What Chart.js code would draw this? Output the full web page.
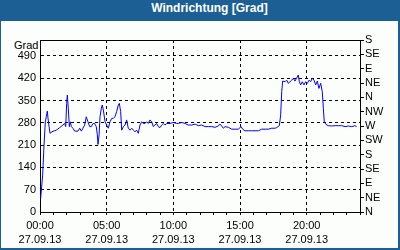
<!DOCTYPE html>
<html>
<head>
<meta charset="utf-8">
<script src="https://cdn.jsdelivr.net/npm/chart.js@4"></script>
<style>
  body { margin: 0; }
  #frame { position: relative; width: 400px; height: 250px; background: #1c5f94; overflow: hidden; }
  #title { position: absolute; left: 0; top: 1px; width: 400px; height: 21px; line-height: 21px; padding-left: 19px; box-sizing: border-box;
           color: #fff; font: bold 12px "Liberation Sans", Arial, sans-serif; text-align: center; }
  #inner { position: absolute; left: 1px; top: 21px; width: 397px; height: 227px; background: #fcfefc; }
  #unit { position: absolute; left: 14px; top: 39px; font: 11px "Liberation Sans", Arial, sans-serif; line-height: 12px; color: #000; }
  canvas { position: absolute; left: 0; top: 0; }
</style>
</head>
<body>
<div id="frame">
  <div id="title">Windrichtung [Grad]</div>
  <div id="inner"></div>
  <div id="unit">Grad</div>
  <canvas id="windChart" width="400" height="250"></canvas>
</div>
<script>
// hours since 00:00 on 27.09.13 and the wind direction in degrees
const hours = [
  0.05, 0.2, 0.3, 0.4, 0.47, 0.55, 0.6, 0.68, 0.75, 0.9, 1.22, 1.48, 1.72, 1.85, 1.93,
  2.0, 2.05, 2.12, 2.2, 2.27, 2.35, 2.47, 2.6, 2.85, 2.98, 3.1, 3.22, 3.35, 3.47, 3.6,
  3.73, 3.85, 3.98, 4.1, 4.22, 4.3, 4.35, 4.43, 4.5, 4.6, 4.67, 4.75, 4.88, 5.0, 5.12,
  5.25, 5.38, 5.5, 5.62, 5.75, 5.87, 5.95, 6.05, 6.13, 6.25, 6.38, 6.5, 6.62, 6.75, 6.88,
  7.0, 7.12, 7.25, 7.37, 7.5, 7.63, 7.75, 7.88, 8.0, 8.12, 8.25, 8.38, 8.5, 8.62, 8.75,
  8.87, 9.0, 9.13, 9.25, 9.37, 9.5, 9.75, 10.0, 10.25, 10.37, 10.63, 10.88, 11.12, 11.38, 11.63,
  11.87, 12.13, 12.38, 12.62, 12.88, 13.13, 13.37, 13.5, 13.63, 13.75, 13.88, 14.12, 14.38, 14.63, 14.87,
  15.08, 15.2, 15.38, 15.62, 15.88, 16.13, 16.37, 16.63, 16.88, 17.12, 17.38, 17.63, 17.75, 17.95, 18.05,
  18.13, 18.2, 18.38, 18.5, 18.62, 18.75, 18.88, 19.0, 19.12, 19.25, 19.37, 19.45, 19.55, 19.67, 19.8,
  19.92, 20.05, 20.18, 20.3, 20.42, 20.55, 20.68, 20.8, 20.92, 21.05, 21.17, 21.25, 21.32, 21.45, 21.62,
  21.88, 22.13, 22.37, 22.63, 22.88, 23.13, 23.38, 23.62, 23.75
];
const degrees = [
  43, 116, 210, 283, 299, 317, 294, 268, 247, 252, 257, 265, 273, 278, 268,
  341, 367, 326, 268, 283, 268, 263, 254, 254, 263, 254, 263, 273, 299, 283,
  268, 268, 278, 278, 268, 242, 212, 242, 299, 326, 336, 320, 283, 273, 263,
  283, 294, 294, 299, 315, 336, 341, 315, 257, 268, 273, 289, 263, 257, 263,
  257, 252, 257, 247, 273, 283, 278, 278, 283, 278, 289, 283, 268, 273, 278,
  268, 265, 273, 278, 273, 278, 278, 281, 278, 278, 281, 278, 273, 273, 276,
  271, 273, 268, 268, 268, 266, 270, 276, 270, 263, 268, 266, 260, 260, 260,
  268, 260, 255, 255, 255, 255, 255, 260, 260, 260, 263, 263, 265, 271, 305,
  378, 411, 409, 414, 404, 409, 414, 420, 411, 420, 430, 409, 399, 409, 399,
  409, 404, 414, 409, 420, 414, 399, 411, 388, 404, 378, 326, 283, 275, 271,
  270, 271, 271, 271, 268, 270, 268, 271, 268
];

const degreeTicks = [0, 70, 140, 210, 280, 350, 420, 490];
const compassTicks = [0, 45, 90, 135, 180, 225, 270, 315, 360, 405, 450, 495, 540];
const compassLabels = ['N', 'NE', 'E', 'SE', 'S', 'SW', 'W', 'NW', 'N', 'NE', 'E', 'SE', 'S'];
const hourTicks = [0, 1, 2, 3, 4, 5, 6, 7, 8, 9, 10, 11, 12, 13, 14, 15, 16, 17, 18, 19, 20, 21, 22, 23, 24];
const timeLabels = { 0: '00:00', 5: '05:00', 10: '10:00', 15: '15:00', 20: '20:00' };
const dateLabel = '27.09.13';

const font = { family: '"Liberation Sans", Arial, sans-serif', size: 11, lineHeight: 1.36 };

// top edge of the plot box
const frameBox = {
  id: 'frameBox',
  afterDraw(chart) {
    const { ctx, chartArea } = chart;
    ctx.save();
    ctx.strokeStyle = '#000';
    ctx.lineWidth = 1;
    ctx.beginPath();
    ctx.moveTo(chartArea.left, Math.round(chartArea.top) + 0.5);
    ctx.lineTo(chartArea.right + 1, Math.round(chartArea.top) + 0.5);
    ctx.stroke();
    ctx.restore();
  }
};

new Chart(document.getElementById('windChart'), {
  type: 'line',
  data: {
    datasets: [{
      data: hours.map((h, i) => ({ x: h, y: degrees[i] })),
      borderColor: '#0000ff',
      borderWidth: 1,
      pointRadius: 0,
      tension: 0,
      fill: false
    }]
  },
  options: {
    responsive: false,
    animation: false,
    devicePixelRatio: 1,
    layout: { padding: { top: 40, left: 0, right: 0, bottom: 0 } },
    plugins: { legend: { display: false }, tooltip: { enabled: false } },
    scales: {
      x: {
        type: 'linear',
        min: 0,
        max: 24,
        afterBuildTicks: (scale) => { scale.ticks = hourTicks.map(v => ({ value: v })); },
        afterFit: (scale) => { scale.height = 38; },
        ticks: {
          autoSkip: false,
          maxRotation: 0,
          padding: 3,
          color: '#000',
          font: font,
          callback: (v) => timeLabels[v] ? [timeLabels[v], dateLabel] : ''
        },
        grid: {
          color: (ctx) => (ctx.tick && ctx.tick.value % 5 === 0) ? '#000' : 'rgba(0,0,0,0)',
          tickColor: '#000',
          tickLength: 3,
          lineWidth: 1
        },
        border: { color: '#000', width: 1, dash: [3, 3] }
      },
      y: {
        position: 'left',
        min: 0,
        max: 540,
        afterBuildTicks: (scale) => { scale.ticks = degreeTicks.map(v => ({ value: v })); },
        afterFit: (scale) => { scale.width = 40; },
        ticks: { autoSkip: false, padding: 4, color: '#000', font: font },
        grid: { color: '#000', drawTicks: false, lineWidth: 1 },
        border: { color: '#000', width: 1, dash: [3, 3] }
      },
      compass: {
        position: 'right',
        min: 0,
        max: 540,
        afterBuildTicks: (scale) => { scale.ticks = compassTicks.map(v => ({ value: v })); },
        afterFit: (scale) => { scale.width = 40; },
        ticks: {
          autoSkip: false,
          padding: 1,
          color: '#000',
          font: font,
          callback: (v, i) => compassLabels[i]
        },
        grid: { drawOnChartArea: false, color: '#000', tickLength: 4 },
        border: { color: '#000', width: 1 }
      }
    }
  },
  plugins: [frameBox]
});
</script>
</body>
</html>
